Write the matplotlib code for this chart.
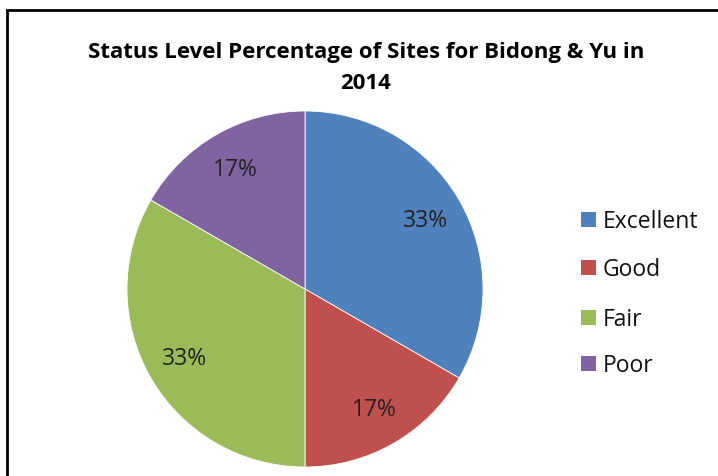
import matplotlib.pyplot as plt
from matplotlib.patches import Rectangle

labels = ['Excellent', 'Good', 'Fair', 'Poor']
values = [2, 1, 2, 1]
colors = ['#4F81BD', '#C0504D', '#9BBB59', '#8064A2']

W, H = 718, 477
fig = plt.figure(figsize=(W / 100, H / 100), dpi=100)
plt.rcParams['font.family'] = ['Open Sans', 'DejaVu Sans']

# outer frame (left and top edges visible)
fig.add_artist(Rectangle((6.5 / W, -0.1), 1.2, (H - 10.5) / H + 0.1, transform=fig.transFigure,
                         fill=False, edgecolor='black', linewidth=2))

ax = fig.add_axes([127 / W, 9 / H, 356 / W, 356 / H])
wedges, texts, autotexts = ax.pie(values, colors=colors, startangle=90, counterclock=False,
                                  autopct='%1.0f%%', pctdistance=0.78,
                                  wedgeprops=dict(edgecolor='white', linewidth=0.6),
                                  textprops=dict(fontsize=16.5, color='#222222'))
ax.set_xlim(-1, 1)
ax.set_ylim(-1, 1)
for w in wedges:
    w.set_clip_on(False)

fig.text(366 / W, 1 - 68 / H, 'Status Level Percentage of Sites for Bidong & Yu in\n2014',
         ha='center', va='center', fontsize=16, fontweight='bold', linespacing=1.65)

ys = [220, 268, 318, 364]
for lab, col, y in zip(labels, colors, ys):
    fig.add_artist(Rectangle((581 / W, 1 - (y + 7.5) / H), 15 / W, 15 / H,
                             transform=fig.transFigure, facecolor=col, edgecolor='none'))
    fig.text(603 / W, 1 - (y + 2) / H, lab, ha='left', va='center', fontsize=16.5, color='#111111')

fig.savefig('out.png', dpi=100)
